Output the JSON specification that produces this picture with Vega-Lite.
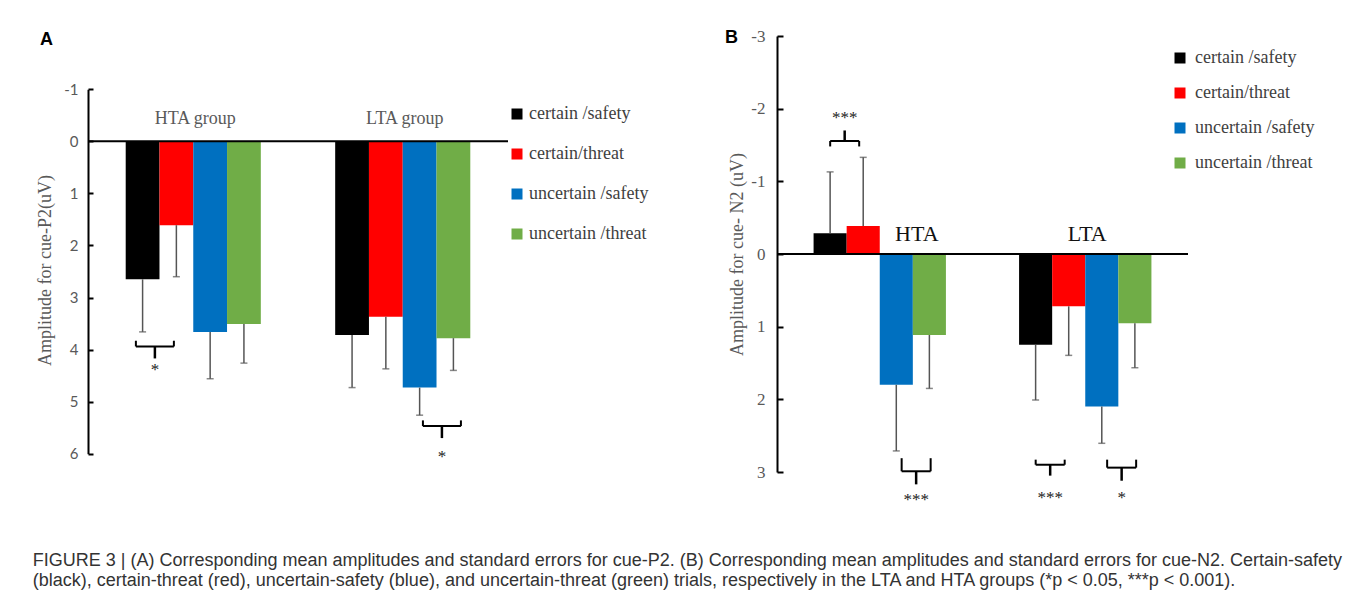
{
  "$schema": "https://vega.github.io/schema/vega-lite/v6.json",
  "background": "white",
  "padding": {"left": 32, "top": 27, "right": 5, "bottom": 3},
  "bounds": "flush",
  "spacing": 269,
  "title": {
    "text": [
      "FIGURE 3 | (A) Corresponding mean amplitudes and standard errors for cue-P2. (B) Corresponding mean amplitudes and standard errors for cue-N2. Certain-safety",
      "(black), certain-threat (red), uncertain-safety (blue), and uncertain-threat (green) trials, respectively in the LTA and HTA groups (*p < 0.05, ***p < 0.001)."
    ],
    "orient": "bottom",
    "anchor": "start",
    "font": "Liberation Sans",
    "fontSize": 18,
    "fontWeight": "normal",
    "color": "#333333",
    "lineHeight": 20,
    "offset": 44,
    "dx": -4,
    "baseline": "top"
  },
  "datasets": {
    "amps": [
      {"panel": "A", "group": "HTA", "condition": "certain /safety", "mean": 2.65, "err": 3.66},
      {"panel": "A", "group": "HTA", "condition": "certain/threat", "mean": 1.61, "err": 2.60},
      {"panel": "A", "group": "HTA", "condition": "uncertain /safety", "mean": 3.66, "err": 4.56},
      {"panel": "A", "group": "HTA", "condition": "uncertain /threat", "mean": 3.51, "err": 4.26},
      {"panel": "A", "group": "LTA", "condition": "certain /safety", "mean": 3.72, "err": 4.73},
      {"panel": "A", "group": "LTA", "condition": "certain/threat", "mean": 3.37, "err": 4.37},
      {"panel": "A", "group": "LTA", "condition": "uncertain /safety", "mean": 4.73, "err": 5.26},
      {"panel": "A", "group": "LTA", "condition": "uncertain /threat", "mean": 3.78, "err": 4.40},
      {"panel": "B", "group": "HTA", "condition": "certain /safety", "mean": -0.285, "err": -1.13},
      {"panel": "B", "group": "HTA", "condition": "certain/threat", "mean": -0.385, "err": -1.33},
      {"panel": "B", "group": "HTA", "condition": "uncertain /safety", "mean": 1.80, "err": 2.71},
      {"panel": "B", "group": "HTA", "condition": "uncertain /threat", "mean": 1.115, "err": 1.85},
      {"panel": "B", "group": "LTA", "condition": "certain /safety", "mean": 1.25, "err": 2.01},
      {"panel": "B", "group": "LTA", "condition": "certain/threat", "mean": 0.72, "err": 1.395},
      {"panel": "B", "group": "LTA", "condition": "uncertain /safety", "mean": 2.10, "err": 2.605},
      {"panel": "B", "group": "LTA", "condition": "uncertain /threat", "mean": 0.954, "err": 1.565}
    ],
    "brackets": [
      {"panel": "A", "group": "HTA", "pair": "left", "top": 3.83, "h": 3.94, "stem": 4.17, "star": 4.40, "stars": "*"},
      {"panel": "A", "group": "LTA", "pair": "right", "top": 5.36, "h": 5.47, "stem": 5.70, "star": 6.06, "stars": "*"},
      {"panel": "B", "group": "HTA", "pair": "left", "top": -1.48, "h": -1.555, "stem": -1.70, "star": -1.875, "stars": "***"},
      {"panel": "B", "group": "HTA", "pair": "right", "top": 2.81, "h": 2.99, "stem": 3.17, "star": 3.39, "stars": "***"},
      {"panel": "B", "group": "LTA", "pair": "left", "top": 2.83, "h": 2.90, "stem": 3.05, "star": 3.36, "stars": "***"},
      {"panel": "B", "group": "LTA", "pair": "right", "top": 2.83, "h": 2.94, "stem": 3.12, "star": 3.36, "stars": "*"}
    ],
    "labels": [
      {"panel": "A", "group": "HTA", "text": "HTA group"},
      {"panel": "A", "group": "LTA", "text": "LTA group"},
      {"panel": "B", "group": "HTA", "text": "HTA"},
      {"panel": "B", "group": "LTA", "text": "LTA"}
    ]
  },
  "hconcat": [
    {
      "width": 420,
      "height": 418,
      "title": {"text": "A", "anchor": "start", "frame": "group", "orient": "top", "offset": 0, "baseline": "top", "dx": -48, "dy": 13, "font": "Liberation Sans", "fontSize": 18, "fontWeight": "bold", "color": "#000000"},
      "layer": [
        {
          "data": {"name": "amps"},
          "transform": [{"filter": "datum.panel === 'A'"}],
          "mark": {"type": "bar"},
          "encoding": {
            "x": {"field": "group", "type": "nominal", "axis": null, "scale": {"paddingInner": 0.355, "paddingOuter": 0.18}},
            "xOffset": {"field": "condition", "type": "nominal", "sort": ["certain /safety", "certain/threat", "uncertain /safety", "uncertain /threat"], "scale": {"paddingInner": 0, "paddingOuter": 0}},
            "y": {
              "field": "mean", "type": "quantitative",
              "scale": {"domain": [-1, 6], "range": [53.3, 417.7], "nice": false, "zero": false},
              "axis": {"values": [-1, 0, 1, 2, 3, 4, 5, 6], "labelExpr": "'' + datum.value", "title": "Amplitude for cue-P2(uV)", "titleFont": "Liberation Serif", "titleFontSize": 18, "titleFontWeight": "normal", "titleColor": "#595959", "titlePadding": 9, "titleY": 234, "labelFont": "Lato", "labelFontSize": 15, "labelColor": "#595959", "labelPadding": 15, "domainColor": "#000000", "domainWidth": 2, "tickColor": "#000000", "tickWidth": 2, "tickSize": -5, "grid": false, "labelFlush": false, "labelOverlap": false}
            },
            "y2": {"datum": 0},
            "color": {
              "field": "condition", "type": "nominal",
              "sort": ["certain /safety", "certain/threat", "uncertain /safety", "uncertain /threat"],
              "scale": {"domain": ["certain /safety", "certain/threat", "uncertain /safety", "uncertain /threat"], "range": ["#000000", "#FF0000", "#0070C0", "#70AD47"]},
              "legend": {"orient": "none", "legendX": 420, "legendY": 69, "title": null, "symbolType": "square", "symbolSize": 121, "symbolStrokeWidth": 0, "labelFont": "Liberation Serif", "labelFontSize": 18, "labelColor": "#404040", "rowPadding": 22, "labelOffset": 3, "padding": 0}
            }
          }
        },
        {
          "data": {"name": "amps"},
          "transform": [{"filter": "datum.panel === 'A'"}],
          "mark": {"type": "rule", "color": "#555555", "strokeWidth": 1.5},
          "encoding": {
            "x": {"field": "group", "type": "nominal", "axis": null},
            "xOffset": {"field": "condition", "type": "nominal", "sort": ["certain /safety", "certain/threat", "uncertain /safety", "uncertain /threat"]},
            "y": {"field": "mean", "type": "quantitative"},
            "y2": {"field": "err"}
          }
        },
        {
          "data": {"name": "amps"},
          "transform": [{"filter": "datum.panel === 'A'"}],
          "mark": {"type": "tick", "color": "#555555", "thickness": 1.5, "size": 7},
          "encoding": {
            "x": {"field": "group", "type": "nominal", "axis": null},
            "xOffset": {"field": "condition", "type": "nominal", "sort": ["certain /safety", "certain/threat", "uncertain /safety", "uncertain /threat"]},
            "y": {"field": "err", "type": "quantitative"}
          }
        },
        {
          "data": {"values": [{}]},
          "mark": {"type": "rule", "color": "#000000", "strokeWidth": 2},
          "encoding": {"y": {"datum": 0, "type": "quantitative"}}
        },
        {
          "data": {"name": "labels"},
          "transform": [{"filter": "datum.panel === 'A'"}],
          "mark": {"type": "text", "font": "Liberation Serif", "fontSize": 18, "color": "#595959", "baseline": "middle"},
          "encoding": {
            "x": {"field": "group", "type": "nominal", "axis": null, "bandPosition": 0.515},
            "y": {"datum": -0.42, "type": "quantitative"},
            "text": {"field": "text"}
          }
        },
        {
          "data": {"name": "brackets"},
          "transform": [{"filter": "datum.panel === 'A' && datum.pair === 'left'"}],
          "encoding": {"x": {"field": "group", "type": "nominal", "axis": null, "bandPosition": 0.216}},
          "layer": [
            {"mark": {"type": "rule", "color": "#000000", "strokeWidth": 2, "xOffset": -19, "x2Offset": 19}, "encoding": {"x2": {"field": "group", "bandPosition": 0.216}, "y": {"field": "h", "type": "quantitative"}}},
            {"mark": {"type": "rule", "color": "#000000", "strokeWidth": 2, "xOffset": -19}, "encoding": {"y": {"field": "top", "type": "quantitative"}, "y2": {"field": "h"}}},
            {"mark": {"type": "rule", "color": "#000000", "strokeWidth": 2, "xOffset": 19}, "encoding": {"y": {"field": "top", "type": "quantitative"}, "y2": {"field": "h"}}},
            {"mark": {"type": "rule", "color": "#000000", "strokeWidth": 2.5}, "encoding": {"y": {"field": "h", "type": "quantitative"}, "y2": {"field": "stem"}}},
            {"mark": {"type": "text", "font": "Liberation Serif", "fontSize": 17, "color": "#222222", "baseline": "middle"}, "encoding": {"y": {"field": "star", "type": "quantitative"}, "text": {"field": "stars"}}}
          ]
        },
        {
          "data": {"name": "brackets"},
          "transform": [{"filter": "datum.panel === 'A' && datum.pair === 'right'"}],
          "encoding": {"x": {"field": "group", "type": "nominal", "axis": null, "bandPosition": 0.79}},
          "layer": [
            {"mark": {"type": "rule", "color": "#000000", "strokeWidth": 2, "xOffset": -19, "x2Offset": 19}, "encoding": {"x2": {"field": "group", "bandPosition": 0.79}, "y": {"field": "h", "type": "quantitative"}}},
            {"mark": {"type": "rule", "color": "#000000", "strokeWidth": 2, "xOffset": -19}, "encoding": {"y": {"field": "top", "type": "quantitative"}, "y2": {"field": "h"}}},
            {"mark": {"type": "rule", "color": "#000000", "strokeWidth": 2, "xOffset": 19}, "encoding": {"y": {"field": "top", "type": "quantitative"}, "y2": {"field": "h"}}},
            {"mark": {"type": "rule", "color": "#000000", "strokeWidth": 2.5}, "encoding": {"y": {"field": "h", "type": "quantitative"}, "y2": {"field": "stem"}}},
            {"mark": {"type": "text", "font": "Liberation Serif", "fontSize": 17, "color": "#222222", "baseline": "middle"}, "encoding": {"y": {"field": "star", "type": "quantitative"}, "text": {"field": "stars"}}}
          ]
        }
      ]
    },
    {
      "width": 411,
      "height": 436,
      "title": {"text": "B", "anchor": "start", "frame": "group", "orient": "top", "offset": 0, "baseline": "top", "dx": -52, "dy": 20, "font": "Liberation Sans", "fontSize": 18, "fontWeight": "bold", "color": "#000000"},
      "layer": [
        {
          "data": {"name": "amps"},
          "transform": [{"filter": "datum.panel === 'B'"}],
          "mark": {"type": "bar"},
          "encoding": {
            "x": {"field": "group", "type": "nominal", "axis": null, "scale": {"paddingInner": 0.356, "paddingOuter": 0.178}},
            "xOffset": {"field": "condition", "type": "nominal", "sort": ["certain /safety", "certain/threat", "uncertain /safety", "uncertain /threat"], "scale": {"paddingInner": 0, "paddingOuter": 0}},
            "y": {
              "field": "mean", "type": "quantitative",
              "scale": {"domain": [-3, 3], "reverse": true, "nice": false, "zero": false},
              "axis": {"values": [-3, -2, -1, 0, 1, 2, 3], "labelExpr": "'' + datum.value", "title": "Amplitude for cue- N2 (uV)", "titleFont": "Liberation Serif", "titleFontSize": 18, "titleFontWeight": "normal", "titleColor": "#595959", "titlePadding": 4, "labelFont": "Liberation Serif", "labelFontSize": 17, "labelColor": "#595959", "labelPadding": 18, "domainColor": "#000000", "domainWidth": 2, "tickColor": "#000000", "tickWidth": 2, "tickSize": -6, "grid": false, "labelFlush": false, "labelOverlap": false}
            },
            "y2": {"datum": 0},
            "color": {
              "field": "condition", "type": "nominal",
              "sort": ["certain /safety", "certain/threat", "uncertain /safety", "uncertain /threat"],
              "scale": {"domain": ["certain /safety", "certain/threat", "uncertain /safety", "uncertain /threat"], "range": ["#000000", "#FF0000", "#0070C0", "#70AD47"]},
              "legend": {"orient": "none", "legendX": 394, "legendY": 13, "title": null, "symbolType": "square", "symbolSize": 121, "symbolStrokeWidth": 0, "labelFont": "Liberation Serif", "labelFontSize": 18, "labelColor": "#404040", "rowPadding": 17, "labelOffset": 6, "padding": 0}
            }
          }
        },
        {
          "data": {"name": "amps"},
          "transform": [{"filter": "datum.panel === 'B'"}],
          "mark": {"type": "rule", "color": "#555555", "strokeWidth": 1.5},
          "encoding": {
            "x": {"field": "group", "type": "nominal", "axis": null},
            "xOffset": {"field": "condition", "type": "nominal", "sort": ["certain /safety", "certain/threat", "uncertain /safety", "uncertain /threat"]},
            "y": {"field": "mean", "type": "quantitative"},
            "y2": {"field": "err"}
          }
        },
        {
          "data": {"name": "amps"},
          "transform": [{"filter": "datum.panel === 'B'"}],
          "mark": {"type": "tick", "color": "#555555", "thickness": 1.5, "size": 7},
          "encoding": {
            "x": {"field": "group", "type": "nominal", "axis": null},
            "xOffset": {"field": "condition", "type": "nominal", "sort": ["certain /safety", "certain/threat", "uncertain /safety", "uncertain /threat"]},
            "y": {"field": "err", "type": "quantitative"}
          }
        },
        {
          "data": {"values": [{}]},
          "mark": {"type": "rule", "color": "#000000", "strokeWidth": 2},
          "encoding": {"y": {"datum": 0, "type": "quantitative"}}
        },
        {
          "data": {"name": "labels"},
          "transform": [{"filter": "datum.panel === 'B' && datum.group === 'HTA'"}],
          "mark": {"type": "text", "font": "Liberation Serif", "fontSize": 22, "color": "#111111", "baseline": "middle"},
          "encoding": {
            "x": {"field": "group", "type": "nominal", "axis": null, "bandPosition": 0.78},
            "y": {"datum": -0.27, "type": "quantitative"},
            "text": {"field": "text"}
          }
        },
        {
          "data": {"name": "labels"},
          "transform": [{"filter": "datum.panel === 'B' && datum.group === 'LTA'"}],
          "mark": {"type": "text", "font": "Liberation Serif", "fontSize": 22, "color": "#111111", "baseline": "middle"},
          "encoding": {
            "x": {"field": "group", "type": "nominal", "axis": null, "bandPosition": 0.515},
            "y": {"datum": -0.27, "type": "quantitative"},
            "text": {"field": "text"}
          }
        },
        {
          "data": {"name": "brackets"},
          "transform": [{"filter": "datum.panel === 'B' && datum.pair === 'left'"}],
          "encoding": {"x": {"field": "group", "type": "nominal", "axis": null, "bandPosition": 0.235}},
          "layer": [
            {"mark": {"type": "rule", "color": "#000000", "strokeWidth": 2, "xOffset": -14.5, "x2Offset": 14.5}, "encoding": {"x2": {"field": "group", "bandPosition": 0.235}, "y": {"field": "h", "type": "quantitative"}}},
            {"mark": {"type": "rule", "color": "#000000", "strokeWidth": 2, "xOffset": -14.5}, "encoding": {"y": {"field": "top", "type": "quantitative"}, "y2": {"field": "h"}}},
            {"mark": {"type": "rule", "color": "#000000", "strokeWidth": 2, "xOffset": 14.5}, "encoding": {"y": {"field": "top", "type": "quantitative"}, "y2": {"field": "h"}}},
            {"mark": {"type": "rule", "color": "#000000", "strokeWidth": 2.5}, "encoding": {"y": {"field": "h", "type": "quantitative"}, "y2": {"field": "stem"}}},
            {"mark": {"type": "text", "font": "Liberation Serif", "fontSize": 17, "color": "#222222", "baseline": "middle"}, "encoding": {"y": {"field": "star", "type": "quantitative"}, "text": {"field": "stars"}}}
          ]
        },
        {
          "data": {"name": "brackets"},
          "transform": [{"filter": "datum.panel === 'B' && datum.pair === 'right'"}],
          "encoding": {"x": {"field": "group", "type": "nominal", "axis": null, "bandPosition": 0.775}},
          "layer": [
            {"mark": {"type": "rule", "color": "#000000", "strokeWidth": 2, "xOffset": -14.5, "x2Offset": 14.5}, "encoding": {"x2": {"field": "group", "bandPosition": 0.775}, "y": {"field": "h", "type": "quantitative"}}},
            {"mark": {"type": "rule", "color": "#000000", "strokeWidth": 2, "xOffset": -14.5}, "encoding": {"y": {"field": "top", "type": "quantitative"}, "y2": {"field": "h"}}},
            {"mark": {"type": "rule", "color": "#000000", "strokeWidth": 2, "xOffset": 14.5}, "encoding": {"y": {"field": "top", "type": "quantitative"}, "y2": {"field": "h"}}},
            {"mark": {"type": "rule", "color": "#000000", "strokeWidth": 2.5}, "encoding": {"y": {"field": "h", "type": "quantitative"}, "y2": {"field": "stem"}}},
            {"mark": {"type": "text", "font": "Liberation Serif", "fontSize": 17, "color": "#222222", "baseline": "middle"}, "encoding": {"y": {"field": "star", "type": "quantitative"}, "text": {"field": "stars"}}}
          ]
        }
      ]
    }
  ],
  "resolve": {
    "scale": {"color": "independent", "x": "independent", "y": "independent", "xOffset": "independent"},
    "legend": {"color": "independent"}
  },
  "config": {
    "view": {"stroke": null},
    "axis": {"grid": false}
  }
}
